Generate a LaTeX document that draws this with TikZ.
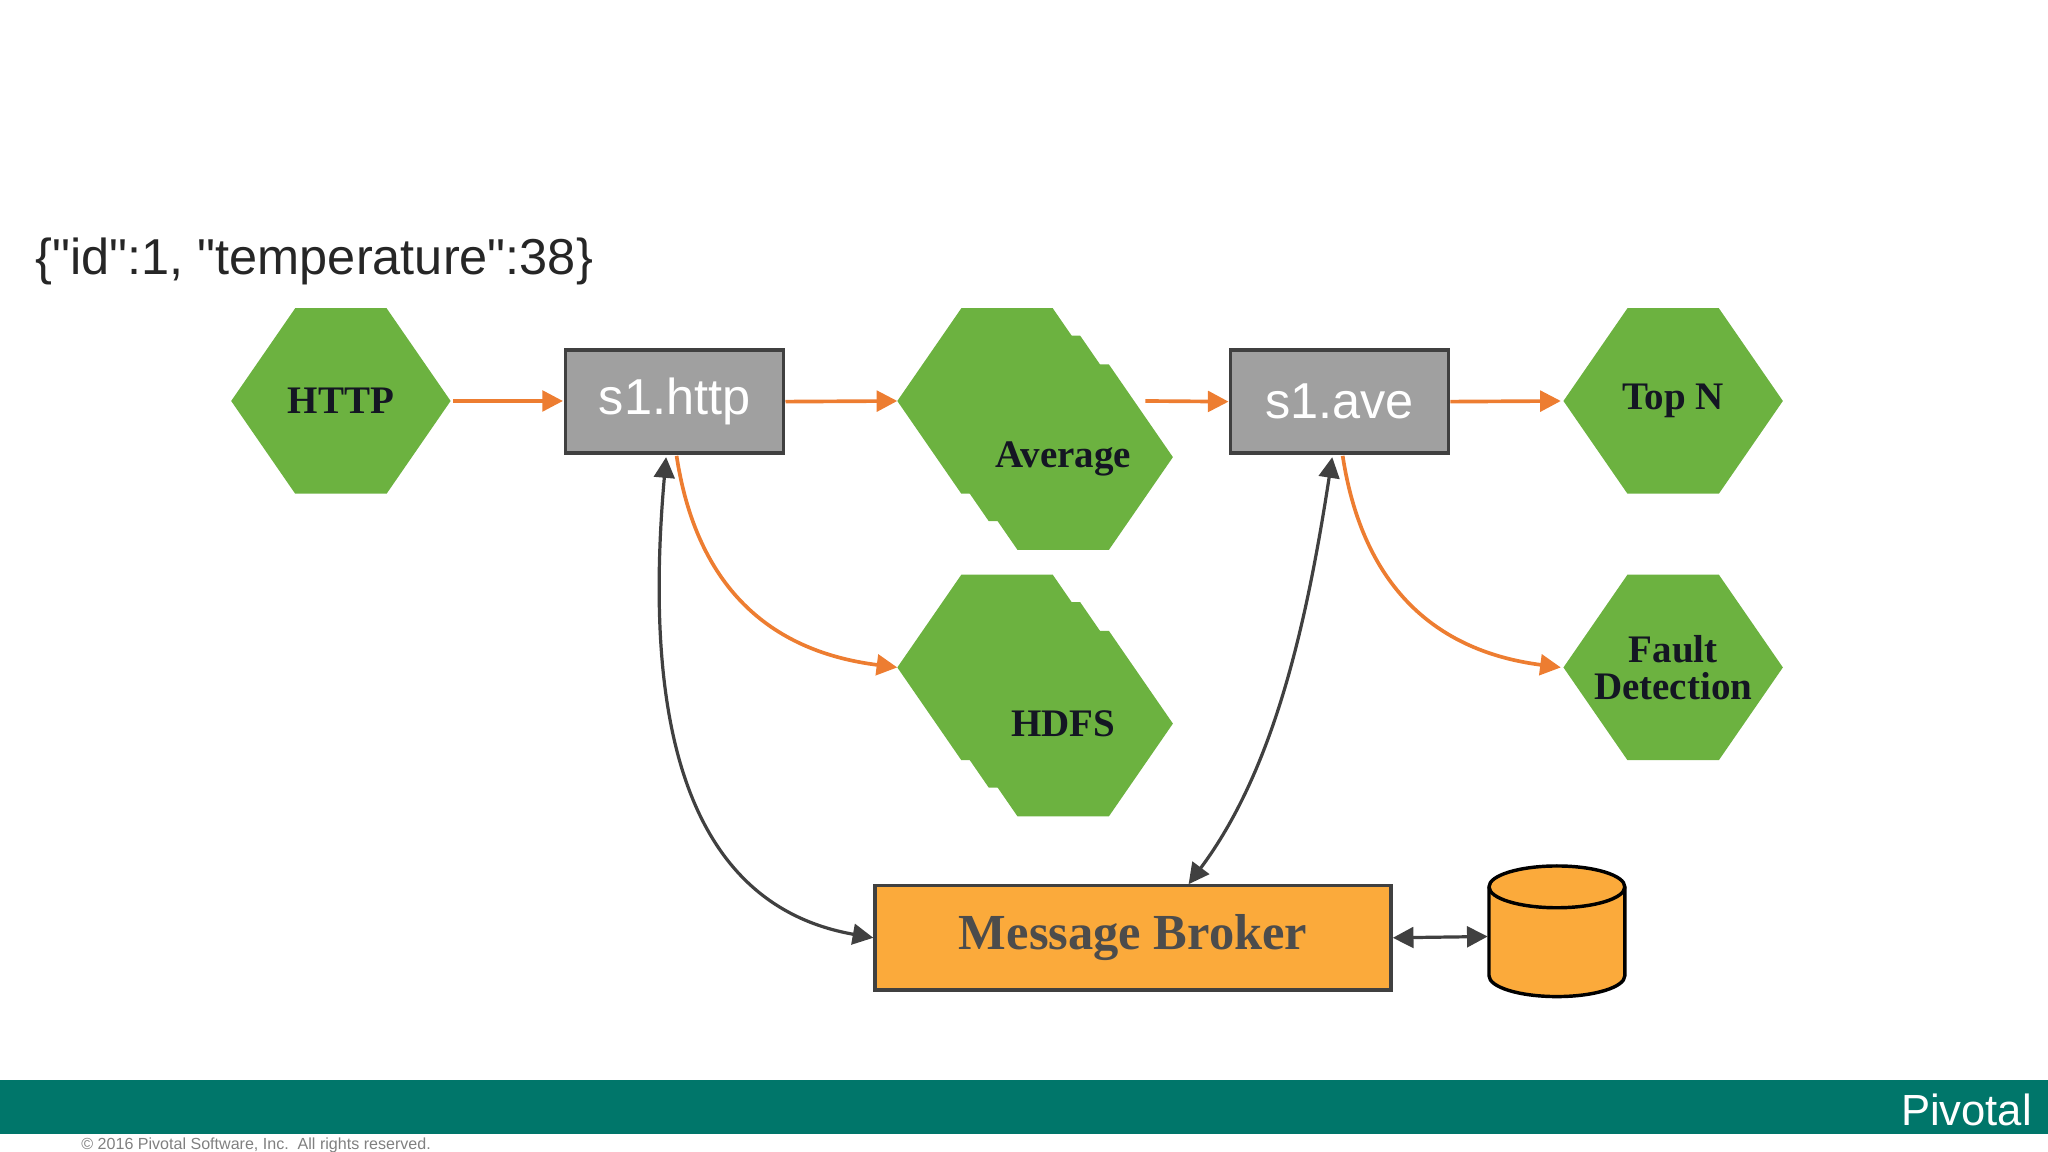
\documentclass[tikz,border=0pt]{standalone}
\usepackage{fontspec}
\setmainfont{Liberation Serif}
\setsansfont{Liberation Sans}
\newfontfamily\jsonfont{Liberation Sans}
\usetikzlibrary{arrows.meta,shapes.geometric}
\definecolor{hexgreen}{RGB}{108,178,64}
\definecolor{boxgray}{RGB}{160,160,160}
\definecolor{edgegray}{RGB}{64,64,64}
\definecolor{brokerorange}{RGB}{251,170,59}
\definecolor{arroworange}{RGB}{237,125,49}
\definecolor{footteal}{RGB}{0,118,106}
\definecolor{labelink}{RGB}{20,22,35}
\begin{document}
\begin{tikzpicture}[x=0.02cm,y=-0.02cm,
  hex/.style={fill=hexgreen,draw=none},
  hexlabel/.style={font=\fontsize{17}{19}\selectfont\bfseries,text=labelink,align=center},
  topic/.style={draw=edgegray,line width=1.6pt,fill=boxgray,minimum width=3.34cm,minimum height=1.58cm,text=white,font=\sffamily\fontsize{22}{24}\selectfont},
  oarr/.style={draw=arroworange,line width=1.6pt,-{Triangle[length=9pt,width=9pt]}},
  garr/.style={draw=edgegray,line width=1.4pt,{Triangle[length=9pt,width=9pt]}-{Triangle[length=9pt,width=9pt]}}]
\useasboundingbox (0,0) rectangle (1568,882);
\newcommand{\hexat}[2]{\fill[hex] (#1-84,#2) -- (#1-35,#2-71) -- (#1+35,#2-71) -- (#1+84,#2) -- (#1+35,#2+71) -- (#1-35,#2+71) -- cycle;}
% footer
\fill[footteal] (0,827) rectangle (1568,868);
\node[anchor=east,text=white,font=\sffamily\fontsize{19}{21}\selectfont,inner sep=0pt] (brand) at (1556,850) {Pivotal};
\node[anchor=west,text=gray,font=\sffamily\fontsize{7}{8}\selectfont,inner sep=0pt] (copy) at (62,877) {© 2016 Pivotal Software, Inc.\ \ All rights reserved.};
% json
\node[anchor=west,font=\jsonfont\fontsize{22}{24}\selectfont,text=black!85,inner sep=0pt] (json) at (27,200) {\{"id":1, "temperature":38\}};
% hexagons
\hexat{261}{307}
\node[hexlabel] (http) at (261,307) {HTTP};
\hexat{771}{307}\hexat{792}{328}\hexat{814}{350}
\node[hexlabel] (avg) at (814,351) {Average};
\coordinate (avgin) at (687,307);
\coordinate (avgout) at (877,307);
\hexat{771}{511}\hexat{792}{532}\hexat{814}{554}
\node[hexlabel] (hdfs) at (814,554) {HDFS};
\coordinate (hdfsin) at (687,511);
\hexat{1281}{307}
\node[hexlabel] (topn) at (1281,307) {Top N};
\hexat{1281}{511}
\node[hexlabel] (fault) at (1281,511) {Fault\\[-3pt]Detection};
% topics
\node[topic] (s1http) at (516.5,307.5) {s1.http};
\node[topic] (s1ave) at (1025.5,307.5) {s1.ave};
% broker
\node[draw=edgegray,line width=1.6pt,fill=brokerorange,minimum width=7.9cm,minimum height=1.6cm,font=\fontsize{22}{24}\selectfont\bfseries,text=black!70] (broker) at (867.5,718) {Message Broker};
% cylinder
\coordinate (db) at (1139,717);
\filldraw[fill=brokerorange,draw=black,line width=1.5pt] (1140,679) -- (1140,747) arc[start angle=180,end angle=360,x radius=52,y radius=-16] -- (1244,679) arc[start angle=0,end angle=180,x radius=52,y radius=-16] -- cycle;
\draw[black,line width=1.5pt] (1140,679) arc[start angle=180,end angle=360,x radius=52,y radius=-16];
% arrows
\draw[oarr] (347,307) -- (431,307);
\draw[oarr] (s1http.east) -- (avgin);
\draw[oarr] (avgout) -- (s1ave.west);
\draw[oarr] (s1ave.east) -- (1195,307);
\draw[oarr] (518,349) .. controls (535,460) and (600,500) .. (hdfsin);
\draw[oarr] (1028,349) .. controls (1045,460) and (1110,500) .. (1195,511);
\draw[garr] (510,350) .. controls (495,520) and (510,690) .. (broker.west);
\draw[garr] (1020,350) .. controls (1000,480) and (975,590) .. (910,677);
\draw[garr] (broker.east) -- (db);
\end{tikzpicture}
\end{document}
